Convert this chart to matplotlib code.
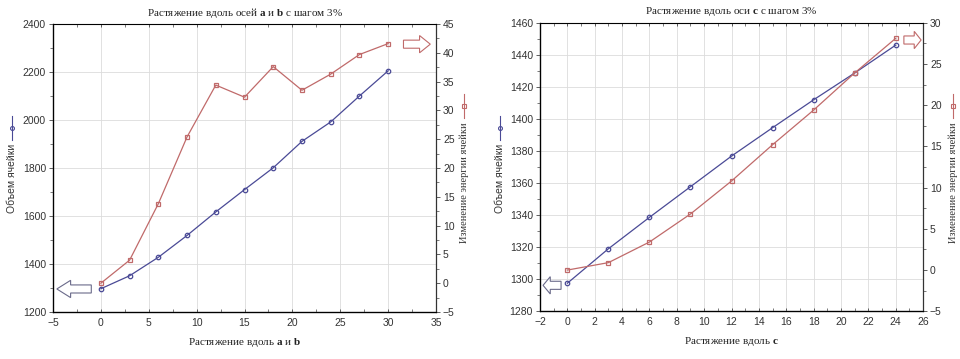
import matplotlib
matplotlib.use("Agg")
import matplotlib.pyplot as plt
from matplotlib.ticker import MultipleLocator, AutoMinorLocator
from matplotlib.patches import FancyArrow
from matplotlib.lines import Line2D

# data
strain_ab = [0, 3, 6, 9, 12, 15, 18, 21, 24, 27, 30]
volume_ab = [1297, 1351, 1428, 1519, 1617, 1710, 1801, 1911, 1992, 2100, 2205]
energy_ab = [0.0, 4.0, 13.8, 25.4, 34.4, 32.3, 37.6, 33.5, 36.3, 39.7, 41.6]

strain_c = [0, 3, 6, 9, 12, 15, 18, 21, 24]
volume_c = [1297.5, 1319, 1338.6, 1357.7, 1376.8, 1394.5, 1411.9, 1428.6, 1446]
energy_c = [0.0, 0.9, 3.4, 6.8, 10.8, 15.2, 19.4, 23.9, 28.1]

BLUE = "#4a4a96"
RED = "#c06a6a"
SERIF = "Liberation Serif"
SANS = "Liberation Sans"

plt.rcParams["font.family"] = SANS
plt.rcParams["mathtext.fontset"] = "custom"
plt.rcParams["mathtext.rm"] = SERIF
plt.rcParams["mathtext.bf"] = SERIF + ":bold"

W, H = 960, 359
fig = plt.figure(figsize=(W / 100, H / 100), dpi=100)
renderer = fig.canvas.get_renderer()


def side_label(xpx, ybot_px, text, family, color, marker):
    # rotated label followed by a small line+marker key, like the original
    t = fig.text(xpx / W, 1 - ybot_px / H, text, rotation=90, ha="center",
                 va="bottom", fontsize=7.5, family=family, color="#333333")
    bb = t.get_window_extent(renderer)
    top = bb.y1 / H + 4 / H
    xs = [xpx / W] * 3
    ys = [top, top + 12 / H, top + 24 / H]
    fig.add_artist(Line2D(xs, ys, color=color, lw=0.8, marker=marker,
                          ms=2.8, mfc="none", mew=0.8, markevery=[1],
                          transform=fig.transFigure))


def make_panel(rect, x, vol, en, xlim, xstep, ylim, ystep, y2lim,
               title, xlabel, arrows):
    ax = fig.add_axes(rect)
    ax2 = ax.twinx()
    ax.plot(x, vol, color=BLUE, lw=0.9, marker="o", ms=3.2, mfc="none",
            mec=BLUE, mew=0.9, zorder=3)
    ax2.plot(x, en, color=RED, lw=0.9, marker="s", ms=3.2, mfc="none",
             mec=RED, mew=0.9, zorder=3)
    ax.set_xlim(*xlim)
    ax.set_ylim(*ylim)
    ax2.set_ylim(*y2lim)
    ax.xaxis.set_major_locator(MultipleLocator(xstep))
    ax.yaxis.set_major_locator(MultipleLocator(ystep))
    ax2.yaxis.set_major_locator(MultipleLocator(5))
    for a in (ax, ax2):
        a.yaxis.set_minor_locator(AutoMinorLocator(2))
        a.tick_params(labelsize=7.5, length=3, width=0.6, color="#444444",
                      pad=2, labelcolor="#333333")
        a.tick_params(which="minor", length=2, width=0.5, color="#444444")
    ax.xaxis.set_minor_locator(AutoMinorLocator(2))
    ax.tick_params(axis="x", which="both", top=True, direction="in")
    ax.tick_params(axis="x", which="major", length=2, pad=4)
    ax.grid(True, which="major", color="#dcdcdc", lw=0.6)
    ax.set_axisbelow(True)
    for s in ("left", "bottom"):
        ax.spines[s].set_color("#555555")
        ax.spines[s].set_linewidth(1.0)
    ax.spines["top"].set_color("#888888")
    ax.spines["top"].set_linewidth(0.6)
    ax2.spines["right"].set_color("#333333")
    ax2.spines["right"].set_linewidth(0.8)
    ax.set_title(title, fontsize=8, family=SERIF, pad=6, color="#222222")
    ax.set_xlabel(xlabel, fontsize=8, family=SERIF, labelpad=6,
                  color="#222222")
    for (x0, y0, dx, col) in arrows:
        ax.add_patch(FancyArrow(x0, y0, dx, 0, width=0.028, head_width=0.06,
                                head_length=abs(dx) * 0.4,
                                length_includes_head=True,
                                transform=ax.transAxes, facecolor="white",
                                edgecolor=col, lw=0.8, clip_on=False,
                                zorder=4))
    return ax, ax2


make_panel([0.0552, 0.1309, 0.3990, 0.8022], strain_ab, volume_ab, energy_ab,
           (-5, 35), 5, (1200, 2400), 200, (-5, 45),
           r"Растяжение вдоль осей $\mathbf{a}$ и $\mathbf{b}$ с шагом 3%",
           r"Растяжение вдоль $\mathbf{a}$ и $\mathbf{b}$",
           [(0.10, 0.08, -0.09, "#6a6a8a"), (0.915, 0.93, 0.07, RED)])

make_panel([0.5625, 0.1329, 0.3990, 0.8039], strain_c, volume_c, energy_c,
           (-2, 26), 2, (1280, 1460), 20, (-5, 30),
           r"Растяжение вдоль оси $\mathbf{c}$ с шагом 3%",
           r"Растяжение вдоль $\mathbf{c}$",
           [(0.055, 0.09, -0.047, "#6a6a8a"), (0.95, 0.94, 0.045, RED)])

side_label(12, 213, "Объем ячейки", SANS, BLUE, "o")
side_label(464, 243, "Изменение энергии ячейки", SERIF, RED, "s")
side_label(500, 213, "Объем ячейки", SANS, BLUE, "o")
side_label(953, 243, "Изменение энергии ячейки", SERIF, RED, "s")

fig.savefig("out.png", dpi=100)
